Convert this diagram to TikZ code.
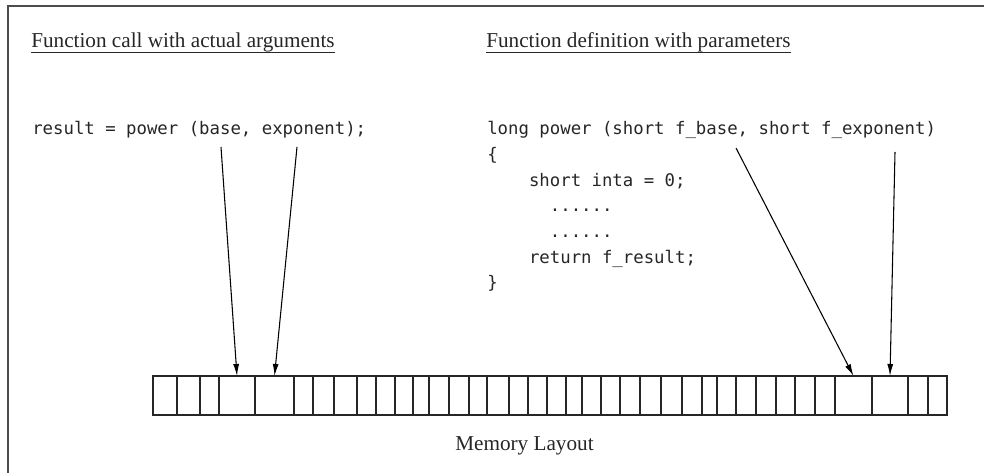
\documentclass[tikz,border=0pt]{standalone}
\usepackage{fontspec}
\setmainfont{Liberation Serif}
\setmonofont{DejaVu Sans Mono}
\usetikzlibrary{arrows.meta,positioning}

\tikzset{
  cell/.style={draw=black!85, line width=1pt, inner sep=0pt, outer sep=0pt, minimum height=29.25pt},
  heading/.style={inner sep=0pt, anchor=base west, text=black!85, font=\fontsize{15.9}{19}\selectfont},
  code/.style={inner sep=0pt, anchor=base west, align=left, text=black!85, font=\ttfamily\fontsize{13}{19.3}\selectfont},
  pass/.style={-{Latex[length=9pt,width=4.5pt]}, line width=0.8pt},
  uline/.style={line width=0.6pt, black!85},
  frame/.style={line width=1.5pt, black!70}
}

\begin{document}
\begin{tikzpicture}[x=0.75pt,y=-0.75pt]
    \useasboundingbox (0,0) rectangle (984,473);
    \draw[frame] (984,6.5) -- (8,6.5) -- (8,473);

    % headings
    \node[heading] (callHead) at (31,48) {Function call with actual arguments};
    \node[heading] (defHead) at (486,48) {Function definition with parameters};
    \draw[uline] ([yshift=-3pt]callHead.base west) -- ([yshift=-3pt]callHead.base east);
    \draw[uline] ([yshift=-3pt]defHead.base west) -- ([yshift=-3pt]defHead.base east);

    % code (base of a multi-line node is its last line)
    \node[code] (callCode) at (32,135) {result = power (base, exponent);};
    \node[code] (defCode) at (487,289) {long power (short f\_base, short f\_exponent)\\
      \{\\
      \hphantom{xxxx}short inta = 0;\\
      \hphantom{xxxxxx}......\\
      \hphantom{xxxxxx}......\\
      \hphantom{xxxx}return f\_result;\\
      \}};

    % memory row
    \foreach \a/\b [count=\i] in {153/177,177/200,200/219,219/255,255/294,294/313,313/334,334/357,357/376,376/395,395/413,413/429,429/449,449/469,469/487,487/509,509/528,528/547,547/566,566/582,582/601,601/620,620/640,640/661,661/682,682/702,702/717,717/736,736/756,756/776,776/795,795/815,815/835,835/872,872/908,908/928,928/947}
      \node[cell, minimum width={(\b-\a)*0.75pt}] (c\i) at ({(\a+\b)/2},395.5) {};
    \node[heading] (memLabel) at (455,450) {Memory Layout};

    % arrows
    \coordinate (baseArg) at (221,147);
    \coordinate (expArg) at (297,147);
    \coordinate (fbaseParam) at (736,148);
    \coordinate (fexpParam) at (895,152);
    \draw[pass] (baseArg) -- (c4.north);
    \draw[pass] (expArg) -- (c5.north);
    \draw[pass] (fbaseParam) -- (c34.north);
    \draw[pass] (fexpParam) -- (c35.north);
\end{tikzpicture}
\end{document}
